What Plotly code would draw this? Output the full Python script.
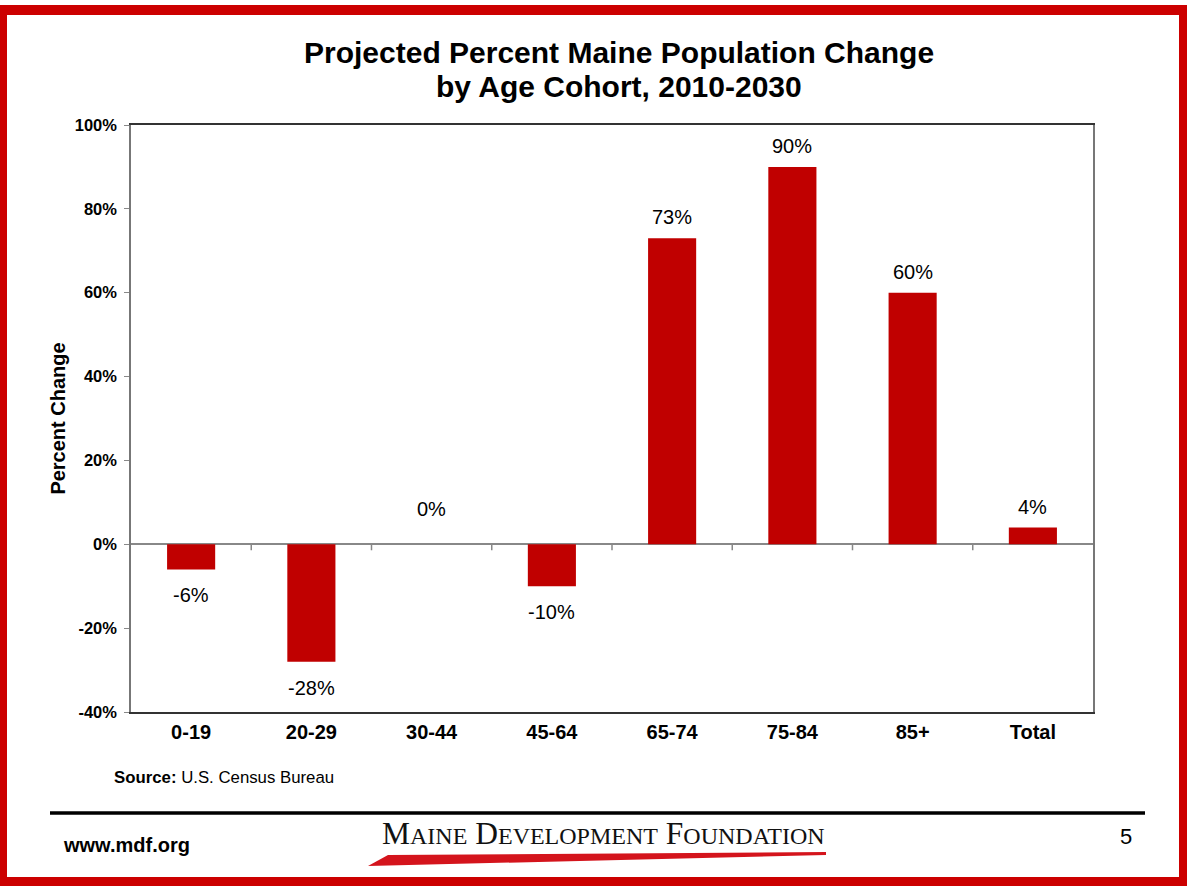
import plotly.graph_objects as go

categories = ["0-19", "20-29", "30-44", "45-64", "65-74", "75-84", "85+", "Total"]
values = [-6, -28, 0, -10, 73, 90, 60, 4]
y_ticks = [-40, -20, 0, 20, 40, 60, 80, 100]

W, H = 1187, 886
L, R, T, B = 131, 1093, 125, 712
FONT = "Liberation Sans, Arial, sans-serif"
BAR = "#C00000"
FRAME = "#CC0000"


def xp(px):
    return (px - L) / (R - L)


def yp(py):
    return (B - py) / (B - T)


fig = go.Figure()
fig.add_trace(go.Bar(
    x=categories, y=values, marker=dict(color=BAR, line=dict(width=0)),
    hoverinfo="skip", showlegend=False,
))

annotations = []
for c, v in zip(categories, values):
    if v > 0:
        ys, ya = 8, "bottom"
    elif v < 0:
        ys, ya = -13, "top"
    else:
        ys, ya = 22, "bottom"
    annotations.append(dict(x=c, y=v, xref="x", yref="y", text=f"{v}%", showarrow=False,
                            yanchor=ya, yshift=ys, font=dict(family=FONT, size=20, color="#000")))

annotations += [
    dict(x=xp(619), y=yp(52), xref="paper", yref="paper", showarrow=False,
         text="<b>Projected Percent Maine Population Change</b>",
         font=dict(family=FONT, size=30, color="#000"), xanchor="center", yanchor="middle"),
    dict(x=xp(619), y=yp(87), xref="paper", yref="paper", showarrow=False,
         text="<b>by Age Cohort, 2010-2030</b>",
         font=dict(family=FONT, size=30, color="#000"), xanchor="center", yanchor="middle"),
    dict(x=xp(112), y=yp(777), xref="paper", yref="paper", showarrow=False,
         text="<b>Source:</b> U.S. Census Bureau", xanchor="left", yanchor="middle",
         font=dict(family=FONT, size=16.8, color="#000")),
    dict(x=xp(61), y=yp(845), xref="paper", yref="paper", showarrow=False,
         text="<b>www.mdf.org</b>", xanchor="left", yanchor="middle",
         font=dict(family=FONT, size=20, color="#000")),
    dict(x=xp(1126), y=yp(836), xref="paper", yref="paper", showarrow=False,
         text="5", xanchor="center", yanchor="middle",
         font=dict(family=FONT, size=22, color="#000")),
    dict(x=xp(603), y=yp(833), xref="paper", yref="paper", showarrow=False,
         text="M<span style='font-size:24px'>AINE</span> D<span style='font-size:24px'>EVELOPMENT</span> F<span style='font-size:24px'>OUNDATION</span>",
         xanchor="center", yanchor="middle",
         font=dict(family="Liberation Serif, Times New Roman, serif", size=31.5, color="#111")),
]

shapes = []
# tick marks on the zero line at category boundaries
for i in range(len(categories) - 1):
    shapes.append(dict(type="line", xref="x", yref="y", x0=i + 0.5, x1=i + 0.5,
                       ysizemode="pixel", yanchor=0, y0=0, y1=-6,
                       line=dict(color="#888", width=1.5)))
# red page frame
for (x0, y0, x1, y1) in [(0, 5, W, 15), (0, 877, W, H), (0, 5, 7, H), (1179, 5, W, H)]:
    shapes.append(dict(type="rect", xref="paper", yref="paper", x0=xp(x0), x1=xp(x1),
                       y0=yp(y1), y1=yp(y0), fillcolor=FRAME, line=dict(width=0), layer="above"))
# footer rule
shapes.append(dict(type="line", xref="paper", yref="paper", x0=xp(50), x1=xp(1145),
                   y0=yp(813), y1=yp(813), line=dict(color="#000", width=3.5)))
# logo swoosh
pts = [(368, 866), (388, 855), (826, 852), (826, 855)]
path = "M " + " L ".join(f"{xp(a)},{yp(b)}" for a, b in pts) + " Z"
shapes.append(dict(type="path", xref="paper", yref="paper", path=path,
                   fillcolor="#D4141C", line=dict(width=0)))

fig.update_layout(
    width=W, height=H,
    margin=dict(l=L, r=W - R, t=T, b=H - B, pad=0),
    paper_bgcolor="white", plot_bgcolor="white",
    bargap=0.6,
    annotations=annotations,
    shapes=shapes,
    font=dict(family=FONT),
)
fig.update_xaxes(
    type="category", range=[-0.5, len(categories) - 0.5],
    showline=True, linecolor="#333", linewidth=1.5, mirror=True,
    showgrid=False, ticks="outside", ticklen=1, tickcolor="rgba(0,0,0,0)",
    tickfont=dict(family=FONT, size=20, color="#000"),
    tickprefix="<b>", ticksuffix="</b>",
)
fig.update_yaxes(
    range=[-40, 100], tickvals=y_ticks, ticktext=[f"<b>{t}%</b>" for t in y_ticks],
    showline=True, linecolor="#777", linewidth=1.5, mirror=True,
    showgrid=False, zeroline=True, zerolinecolor="#888", zerolinewidth=1.5,
    ticks="outside", ticklen=5, tickcolor="#888", ticklabelstandoff=4,
    tickfont=dict(family=FONT, size=16.5, color="#000"),
    title=dict(text="<b>Percent Change</b>", font=dict(family=FONT, size=20, color="#000"),
               standoff=4),
)

fig.write_html("out.html")
